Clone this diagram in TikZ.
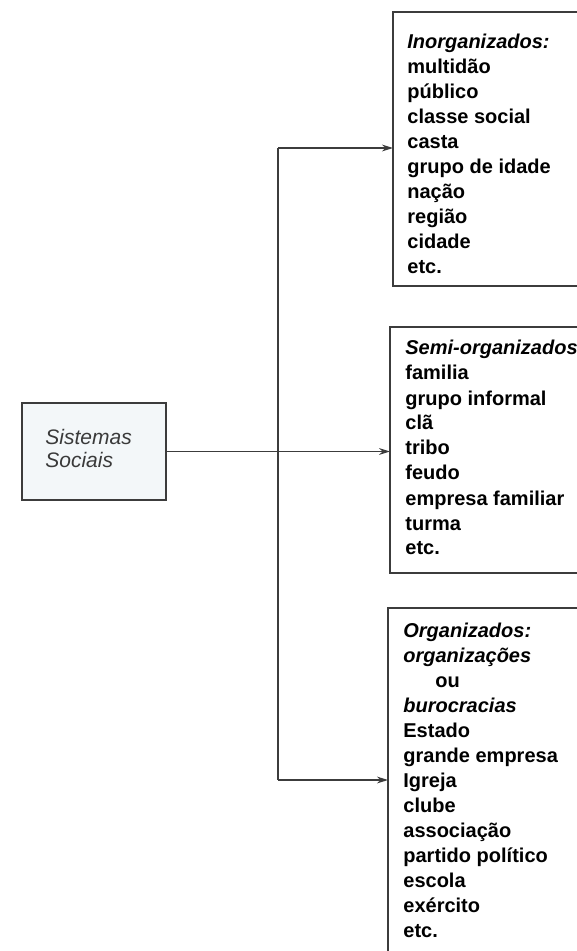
\documentclass[tikz,border=0pt]{standalone}
\usepackage{fontspec}
\setmainfont{Liberation Sans}
\usetikzlibrary{arrows.meta}
\definecolor{srcfill}{HTML}{F3F7F9}
\definecolor{linegray}{HTML}{3C3C3C}
\definecolor{srctext}{HTML}{3A3A3A}
\begin{document}
\begin{tikzpicture}[x=0.5pt,y=-0.5pt,
  boxframe/.style={draw=linegray, line width=0.6pt, inner sep=0pt, outer sep=0pt, anchor=north west},
  topedge/.style={draw=linegray, line width=1.1pt},
  conn/.style={draw=linegray, line width=0.6pt},
  arr/.style={conn, -{Stealth[length=5.5pt,width=3.4pt]}},
  listtext/.style={anchor=base west, inner sep=0pt, font=\bfseries\fontsize{10}{12.5}\selectfont}]
\useasboundingbox (0,0) rectangle (577,951);
\clip (0,0) rectangle (577,951);
% boxes
\node[boxframe, fill=srcfill, minimum width=72pt, minimum height=48.5pt] (src) at (22,403) {};
\node[boxframe, minimum width=150pt, minimum height=137pt] (b1) at (393,12) {};
\node[boxframe, minimum width=150pt, minimum height=123pt] (b2) at (390,327) {};
\node[boxframe, minimum width=150pt, minimum height=200pt] (b3) at (388,608) {};
\draw[topedge] (src.north west) -- (src.north east);
\draw[topedge] (b1.north west) -- (b1.north east);
\draw[topedge] (b2.south west) -- (b2.south east);
\draw[topedge] (b3.north west) -- (b3.north east);
% texts
\node[anchor=base west, inner sep=0pt, text=srctext, font=\itshape\fontsize{10.5}{11.5}\selectfont] (srct) at (45,444)
  {\begin{tabular}[t]{@{}l@{}}Sistemas\\Sociais\end{tabular}};
\node[listtext] (t1) at (407,49) {\begin{tabular}[t]{@{}l@{}}
\textit{Inorganizados:}\\ multidão\\ público\\ classe social\\ casta\\ grupo de idade\\ nação\\ região\\ cidade\\ etc.
\end{tabular}};
\node[listtext] (t2) at (405,355) {\begin{tabular}[t]{@{}l@{}}
\textit{Semi-organizados}\\ familia\\ grupo informal\\ clã\\ tribo\\ feudo\\ empresa familiar\\ turma\\ etc.
\end{tabular}};
\node[listtext] (t3) at (403,637) {\begin{tabular}[t]{@{}l@{}}
\textit{Organizados:}\\ \textit{organizações}\\ \hspace*{16pt}ou\\ \textit{burocracias}\\ Estado\\ grande empresa\\ Igreja\\ clube\\ associação\\ partido político\\ escola\\ exército\\ etc.
\end{tabular}};
% connectors
\coordinate (j1) at (278,148);
\coordinate (j3) at (278,780);
\draw[conn] (j1) -- (j3);
\draw[arr] (j1) -- (j1 -| b1.west);
\draw[arr] (src.east) -- (src.east -| b2.west);
\draw[arr] (j3) -- (j3 -| b3.west);
\end{tikzpicture}
\end{document}
